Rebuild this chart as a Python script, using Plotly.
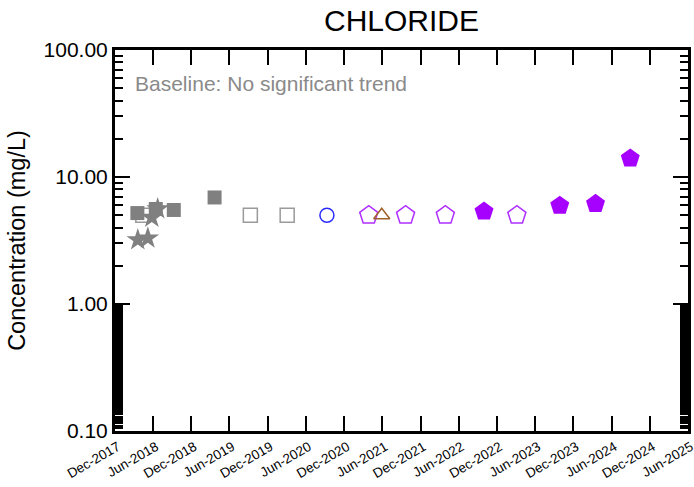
import numpy as np
import pandas as pd
import plotly.graph_objects as go

# ---- data ----
gray_fill_sq_dates = ["2018-03-18", "2018-06-14", "2018-09-08", "2019-03-22"]
gray_fill_sq_vals = [5.2, 5.6, 5.5, 6.9]

gray_open_sq_dates = ["2018-04-13", "2019-09-09", "2020-03-03"]
gray_open_sq_vals = [5.0, 5.0, 5.0]

gray_star_dates = ["2018-03-20", "2018-05-07", "2018-05-26", "2018-06-23"]
gray_star_vals = [3.2, 3.3, 4.8, 5.6]

blue_circle_dates = ["2020-09-09"]
blue_circle_vals = [5.0]

purple_open_pent_dates = ["2021-03-28", "2021-09-20", "2022-03-29", "2023-03-06"]
purple_open_pent_vals = [5.0, 5.0, 5.0, 5.0]

brown_tri_dates = ["2021-05-29"]
brown_tri_vals = [5.0]

purple_fill_pent_dates = ["2022-09-30", "2023-09-27", "2024-03-16", "2024-08-29"]
purple_fill_pent_vals = [5.35, 5.95, 6.15, 14.0]

x_tick_dates = list(pd.date_range("2017-12-01", "2025-06-01", freq="6MS"))
x_tick_text = [d.strftime("%b-%Y") for d in x_tick_dates]

y_tick_vals = [0.1, 1, 10, 100]
y_tick_text = ["0.10", "1.00", "10.00", "100.00"]

title_text = "CHLORIDE"
y_title = "Concentration (mg/L)"
note_text = "Baseline: No significant trend"

FONT = "Liberation Sans, Arial, sans-serif"

fig = go.Figure()

def add(x, y, symbol, size, color, line_color, line_width=1.5):
    fig.add_trace(go.Scatter(
        x=x, y=y, mode="markers",
        marker=dict(symbol=symbol, size=size, color=color,
                    line=dict(color=line_color, width=line_width)),
        showlegend=False, hoverinfo="x+y"))

add(gray_open_sq_dates, gray_open_sq_vals, "square-open", 14, "#9a9a9a", "#9a9a9a", 1.5)
add(gray_fill_sq_dates, gray_fill_sq_vals, "square", 14, "#808080", "#808080", 0)
add(gray_star_dates, gray_star_vals, "star", 17, "#808080", "#808080", 0)
add(blue_circle_dates, blue_circle_vals, "circle-open", 14, "#2a2aff", "#2a2aff", 1.5)
add(purple_open_pent_dates, purple_open_pent_vals, "pentagon-open", 19, "#b030ff", "#b030ff", 1.5)
add(brown_tri_dates, brown_tri_vals, "triangle-up-open", 14, "#a0602a", "#a0602a", 1.5)
add(purple_fill_pent_dates, purple_fill_pent_vals, "pentagon", 20, "#a600ff", "#a600ff", 0)

minor_y = (list(np.arange(0.1, 1.0, 0.005)) + [2, 3, 4, 5, 6, 7, 8, 9] +
           [20, 30, 40, 50, 60, 70, 80, 90])

fig.update_layout(
    width=694, height=487,
    margin=dict(l=115, r=3, t=50, b=56),
    paper_bgcolor="white", plot_bgcolor="white",
    font=dict(family=FONT, color="black"),
    title=dict(text=title_text, x=0.5, xref="paper", xanchor="center",
               y=1 - 20 / 487, yref="container", yanchor="middle",
               font=dict(size=30, family=FONT, color="black")),
    xaxis=dict(
        type="date", range=["2017-12-01", "2025-06-01"],
        tickmode="array", tickvals=x_tick_dates, ticktext=x_tick_text,
        tickangle=-30, ticklabelshift=3, ticklabeloverflow="allow",
        ticks="inside", ticklen=15, tickwidth=2, tickcolor="black",
        showline=True, linewidth=3, linecolor="black", mirror="ticks",
        showgrid=False, zeroline=False, automargin=False,
        tickfont=dict(size=13.5, family=FONT, color="black"),
    ),
    yaxis=dict(
        type="log", range=[-1, 2],
        tickmode="array", tickvals=y_tick_vals, ticktext=y_tick_text,
        ticks="inside", ticklen=15, tickwidth=2, tickcolor="black",
        minor=dict(tickmode="array", tickvals=minor_y, ticks="inside",
                   ticklen=8, tickwidth=2, tickcolor="black", showgrid=False),
        showline=True, linewidth=3, linecolor="black", mirror="ticks",
        showgrid=False, zeroline=False,
        tickfont=dict(size=21, family=FONT, color="black"),
        title=dict(text=y_title, font=dict(size=23.5, family=FONT, color="black"),
                   standoff=12),
    ),
    annotations=[dict(
        text=note_text, xref="paper", yref="paper", x=0.032, y=0.913,
        xanchor="left", yanchor="middle", showarrow=False,
        font=dict(size=21, family=FONT, color="#8a8a8a"))],
)

fig.write_html("out.html")
